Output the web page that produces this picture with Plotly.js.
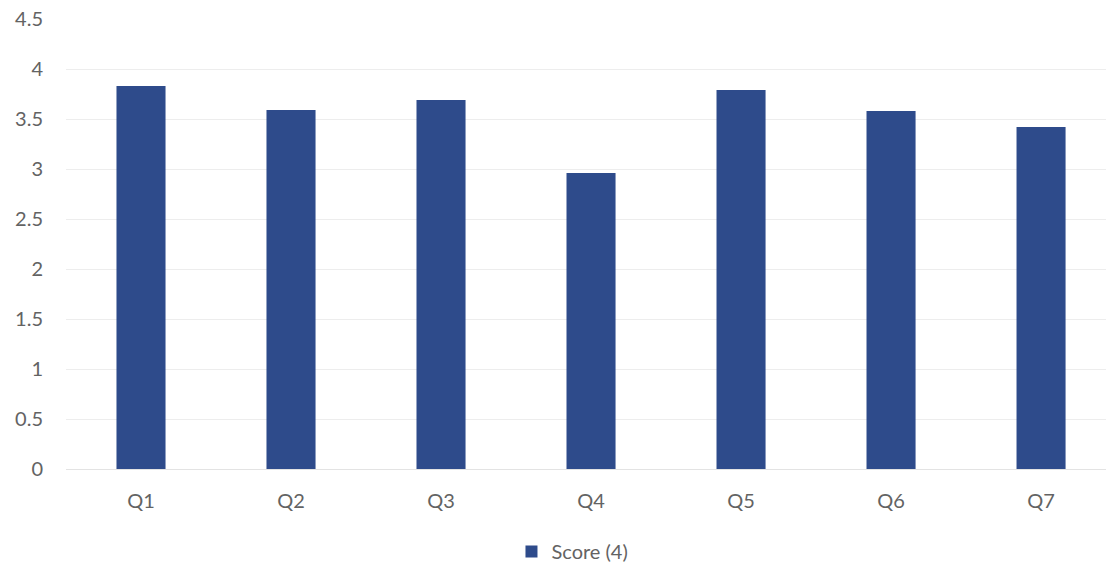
<!DOCTYPE html>
<html>
<head>
<meta charset="utf-8">
<script src="https://cdn.plot.ly/plotly-3.0.1.min.js"></script>
<style>html,body{margin:0;padding:0;background:#fff;}#chart{width:1106px;height:571px;}</style>
</head>
<body>
<div id="chart"></div>
<script>
const categories = ["Q1", "Q2", "Q3", "Q4", "Q5", "Q6", "Q7"];
const scores = [3.83, 3.59, 3.69, 2.96, 3.79, 3.58, 3.42];
const seriesName = "Score (4)";
const yTicks = [0, 0.5, 1, 1.5, 2, 2.5, 3, 3.5, 4, 4.5];
const yTickLabels = ["0", "0.5", "1", "1.5", "2", "2.5", "3", "3.5", "4", "4.5"];

const font = "Lato, 'Open Sans', sans-serif";
Plotly.newPlot("chart", [{
  type: "bar",
  x: categories,
  y: scores,
  name: seriesName,
  marker: {color: "#2E4B8B"},
  showlegend: true
}], {
  width: 1106, height: 571,
  margin: {l: 66, r: 0, t: 19, b: 100},
  paper_bgcolor: "#fff", plot_bgcolor: "#fff",
  bargap: 0.673,
  font: {family: font, size: 20, color: "#636363"},
  xaxis: {range: [-0.5, 6.433], showgrid: false, zeroline: false, showline: false, ticks: "", ticklabelstandoff: 18, tickfont: {size: 20, color: "#636363"}},
  yaxis: {range: [0, 4.5], tickvals: yTicks, ticktext: yTickLabels, showgrid: true, gridcolor: "#EDEDED", gridwidth: 1, zeroline: true, zerolinecolor: "#E3E3E3", showline: false, ticks: "", ticklabelstandoff: 22, tickfont: {size: 20, color: "#636363"}},
  legend: {orientation: "h", x: 0.487, xanchor: "center", y: -0.184, yanchor: "middle", font: {size: 20, color: "#636363"}, itemwidth: 30},
  showlegend: true
}, {displayModeBar: false, staticPlot: true});
</script>
</body>
</html>
